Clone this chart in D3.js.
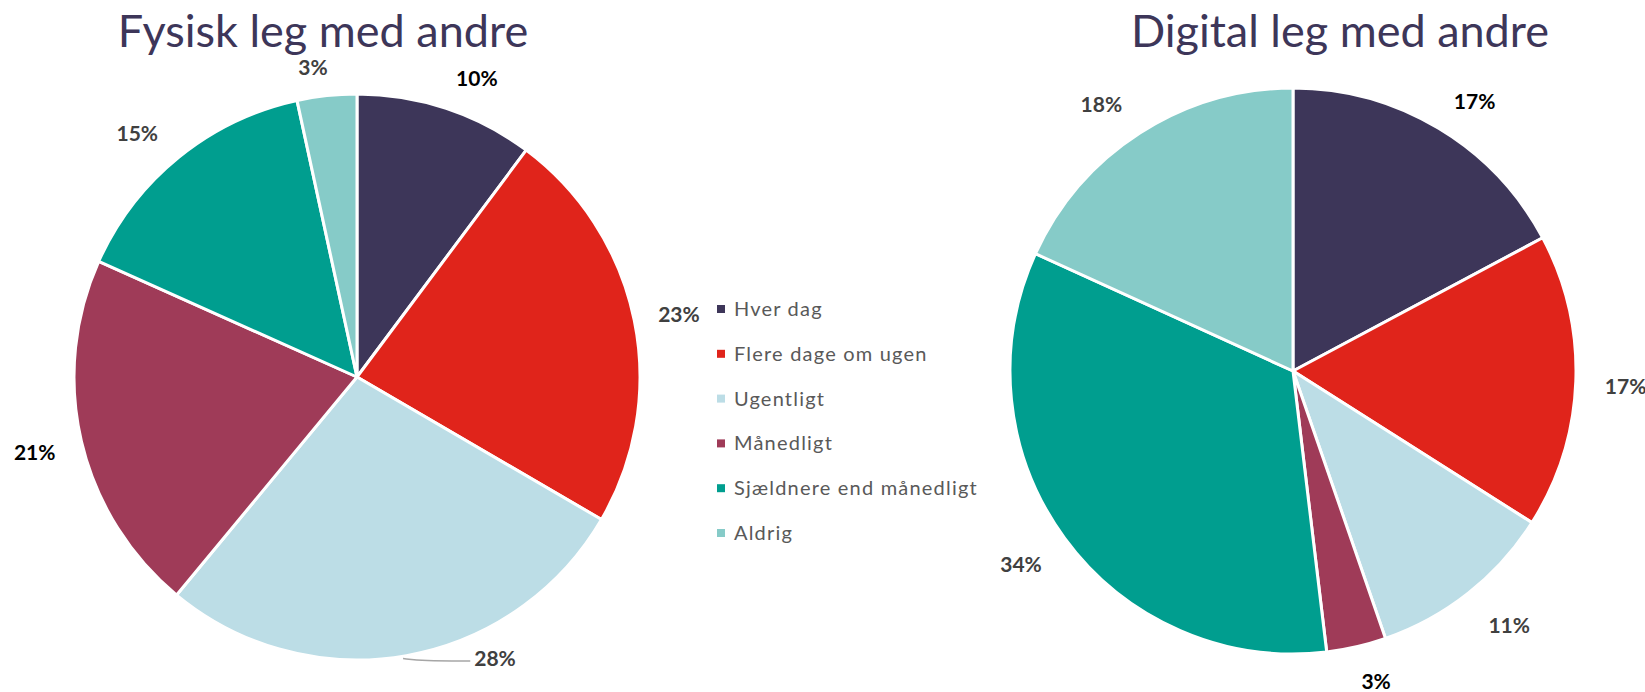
<!DOCTYPE html>
<html>
<head>
<meta charset="utf-8">
<script src="https://cdn.jsdelivr.net/npm/d3@7"></script>
<style>
  body { margin: 0; background: #fff; }
  svg { display: block; }
</style>
</head>
<body>
<svg id="chart"></svg>
<script>
// categories and values (percent)
var categories = ["Hver dag", "Flere dage om ugen", "Ugentligt", "Månedligt", "Sjældnere end månedligt", "Aldrig"]
var fysiskValues = [10.2, 23.2, 27.6, 20.7, 14.9, 3.4]
var digitalValues = [17.2, 16.8, 10.7, 3.4, 33.7, 18.2]
var fysiskLabels = ["10%", "23%", "28%", "21%", "15%", "3%"]
var digitalLabels = ["17%", "17%", "11%", "3%", "34%", "18%"]
var titles = ["Fysisk leg med andre", "Digital leg med andre"]

var colors = ["#3d3659", "#e0241b", "#bcdde6", "#9f3b58", "#009e8f", "#86cbc8"]

var dimensions = ({
    width: 1645,
    height: 692,
    radius: 283
})

var svg = d3.select("#chart")
            .attr("width", dimensions.width)
            .attr("height", dimensions.height)

var color = d3.scaleOrdinal().domain(categories).range(colors)

var pie = d3.pie().sort(null).value(function(d){ return d.value })
var arc = d3.arc().innerRadius(0).outerRadius(dimensions.radius)

// layout of each pie (label nudges in degrees, like the moved labels in the original)
var charts = [
    { title: titles[0], values: fysiskValues, labels: fysiskLabels, cx: 357, cy: 377, titleX: 323,
      shift: [3.5, 0.5, -16, 0, -3, -2], dist: [322, 328, 314, 331, 328, 312],
      ink: ["#000", "#404040", "#404040", "#000", "#404040", "#404040"], leader: 2 },
    { title: titles[1], values: digitalValues, labels: digitalLabels, cx: 1293, cy: 371, titleX: 1340,
      shift: [3, 0.6, -2, -2, 0.7, -3], dist: [325, 333, 334, 322, 334, 328],
      ink: ["#000", "#404040", "#404040", "#000", "#404040", "#404040"], leader: -1 }
]

charts.forEach(function(c){
    var data = categories.map(function(k, i){ return { key: k, value: c.values[i], label: c.labels[i], i: i } })

    svg.append("text")
       .attr("x", c.titleX)
       .attr("y", 47)
       .attr("text-anchor", "middle")
       .style("font-family", "Lato, 'Open Sans', sans-serif")
       .style("font-size", "45px")
       .style("fill", "#3d3659")
       .text(c.title)

    var g = svg.append("g").attr("transform", "translate(" + c.cx + "," + c.cy + ")")

    var arcs = pie(data)

    g.selectAll("path")
     .data(arcs)
     .enter()
     .append("path")
     .attr("d", arc)
     .attr("fill", function(d){ return color(d.data.key) })
     .attr("stroke", "#fff")
     .attr("stroke-width", 3)
     .attr("stroke-linejoin", "round")

    var labels = g.selectAll("text.lbl")
     .data(arcs)
     .enter()
     .append("text")
     .attr("class", "lbl")
     .attr("transform", function(d){
         var a = (d.startAngle + d.endAngle) / 2 + c.shift[d.data.i] * Math.PI / 180
         var r = c.dist[d.data.i]
         return "translate(" + (Math.sin(a) * r) + "," + (-Math.cos(a) * r) + ")"
     })
     .attr("text-anchor", "middle")
     .attr("dy", "0.35em")
     .style("font-family", "Lato, 'Open Sans', sans-serif")
     .style("font-weight", "bold")
     .style("font-size", "21px")
     .style("fill", function(d){ return c.ink[d.data.i] })
     .text(function(d){ return d.data.label })

    if (c.leader >= 0) {
        var d = arcs[c.leader]
        var mid = (d.startAngle + d.endAngle) / 2
        var a = mid + c.shift[c.leader] * Math.PI / 180
        var r = c.dist[c.leader]
        var lx = Math.sin(a) * r, ly = -Math.cos(a) * r
        var node = labels.filter(function(e){ return e.data.i === c.leader }).node()
        var w = node.getComputedTextLength()
        var x0 = Math.sin(mid) * (dimensions.radius + 3) - 4, y0 = -Math.cos(mid) * (dimensions.radius + 3)
        g.append("path")
         .attr("d", d3.line().curve(d3.curveBasis)([[x0, y0], [x0 + 20, ly + 2], [lx - w / 2 - 4, ly + 2]]))
         .attr("fill", "none")
         .attr("stroke", "#a6a6a6")
         .attr("stroke-width", 1.5)
    }
})

// legend
var legend = svg.append("g").attr("transform", "translate(717,309)")
var rows = legend.selectAll("g")
                 .data(categories)
                 .enter()
                 .append("g")
                 .attr("transform", function(d, i){ return "translate(0," + (i * 44.8) + ")" })
rows.append("rect")
    .attr("x", 0)
    .attr("y", -4)
    .attr("width", 8)
    .attr("height", 8)
    .attr("fill", function(d){ return color(d) })
rows.append("text")
    .attr("x", 17)
    .attr("dy", "0.35em")
    .style("font-family", "Lato, 'Open Sans', sans-serif")
    .style("font-size", "20px")
    .style("letter-spacing", "1.2px")
    .style("fill", "#595959")
    .text(function(d){ return d })
</script>
</body>
</html>
